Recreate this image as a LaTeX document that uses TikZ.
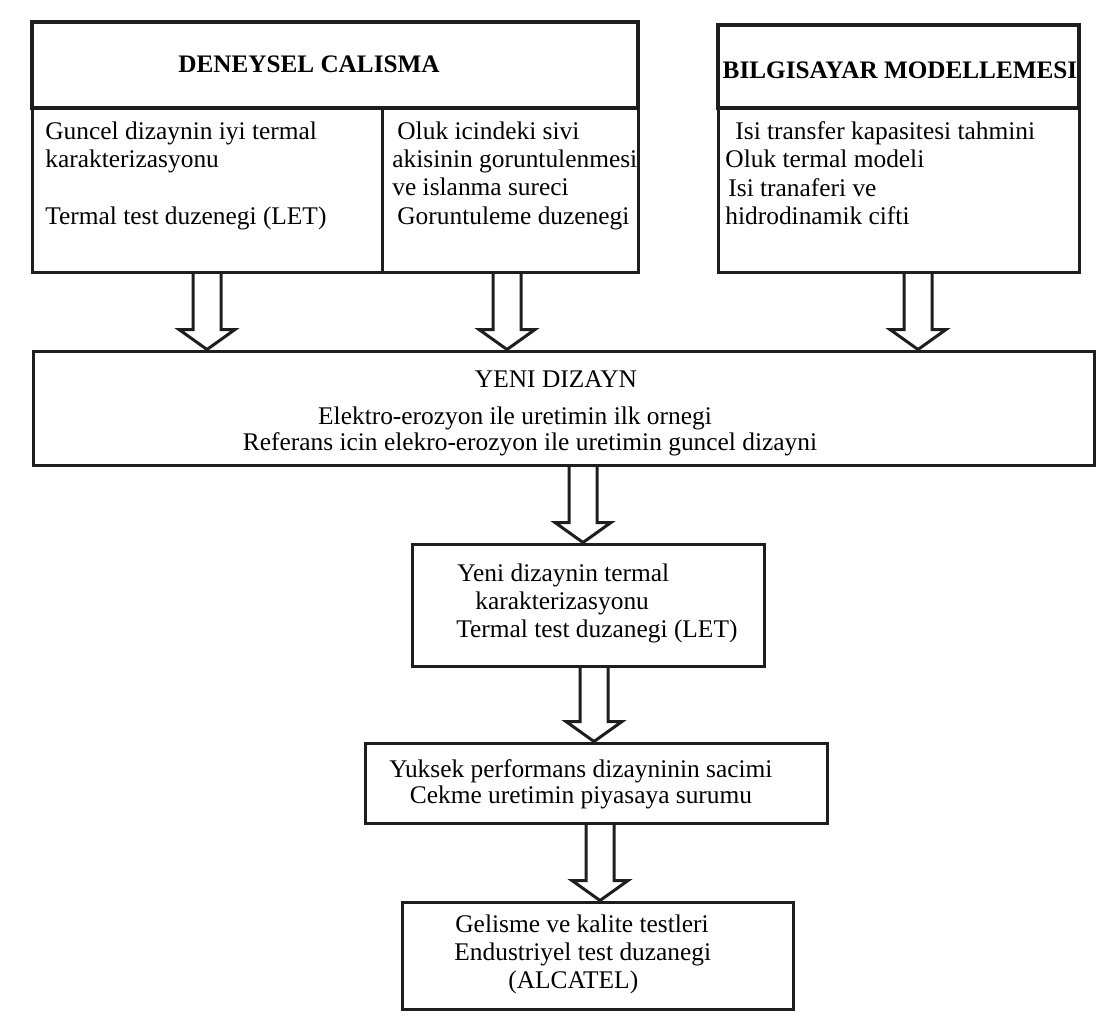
\documentclass[tikz,border=0pt]{standalone}
\usepackage{fontspec}
\setmainfont{Liberation Serif}
\usetikzlibrary{fit,calc}
\definecolor{inkline}{HTML}{1E1E1E}
\newcommand{\hollowarrow}[3]{%
  \draw[arrowline] let \p1=(#1,0), \p2=(#2), \p3=(#3) in
    (\x1-7pt,\y2) -- (\x1-7pt,\y3+10pt) -- (\x1-14pt,\y3+10pt) -- (\x1,\y3)
    -- (\x1+14pt,\y3+10pt) -- (\x1+7pt,\y3+10pt) -- (\x1+7pt,\y2);}
\begin{document}
\begin{tikzpicture}[x=0.5pt,y=-0.5pt,
  box/.style={draw=inkline, line width=1.5pt, inner sep=0pt},
  headbox/.style={box, line width=2pt},
  arrowline/.style={draw=inkline, line width=1.5pt, line join=miter},
  txt/.style={inner sep=0pt, font=\fontsize{12.7}{14.2}\selectfont, align=left, anchor=north west},
  ctxt/.style={inner sep=0pt, font=\fontsize{12.7}{13.2}\selectfont, align=center},
  ptxt/.style={inner sep=0pt, font=\fontsize{12.7}{14}\selectfont},
  htxt/.style={inner sep=0pt, font=\bfseries\fontsize{12.6}{14}\selectfont}]
\useasboundingbox[fill=white] (0,0) rectangle (1107,1028);

% top-left block
\node[headbox, fit={(32,22) (638,108)}] (dh) {};
\node[box, fit={(32,108) (382,272)}] (dl) {};
\node[box, fit={(382,108) (638,272)}] (dm) {};
\node[htxt] (dhT) at (309,64) {DENEYSEL CALISMA};
\node[txt] (dlT) at (45,121) {Guncel dizaynin iyi termal\\karakterizasyonu\\[14.2pt]Termal test duzenegi (LET)};
\node[txt] (dmT) at (392,121) {\hspace*{2.5pt}Oluk icindeki sivi\\akisinin goruntulenmesi\\ve islanma sureci\\\hspace*{2.5pt}Goruntuleme duzenegi};

% top-right block
\node[headbox, fit={(718,25) (1079,108)}] (bh) {};
\node[box, fit={(718,108) (1079,272)}] (bb) {};
\node[htxt] (bhT) at (900,70) {BILGISAYAR MODELLEMESI};
\node[txt] (bbT) at (725,121) {\hspace*{5pt}Isi transfer kapasitesi tahmini\\Oluk termal modeli\\\hspace*{1.5pt}Isi tranaferi ve\\hidrodinamik cifti};

% new design
\node[box, fit={(33,351) (1094,465)}] (yeni) {};
\node[ptxt] (y1) at (556,379) {YENI DIZAYN};
\node[ptxt] (y2) at (515,418) {Elektro-erozyon ile uretimin ilk ornegi};
\node[ptxt] (y3) at (530,444) {Referans icin elekro-erozyon ile uretimin guncel dizayni};

% box 2
\node[box, fit={(412,544) (764,666)}] (b2) {};
\node[txt] (b2T) at (456,563) {\hspace*{0.5pt}Yeni dizaynin termal\\\hspace*{9.5pt}karakterizasyonu\\Termal test duzanegi (LET)};

% box 3
\node[box, fit={(365,743) (827,823)}] (b3) {};
\node[ctxt] (b3T) at (581,784) {Yuksek performans dizayninin sacimi\\Cekme uretimin piyasaya surumu};

% box 4
\node[box, fit={(402,902) (793,1009)}] (b4) {};
\node[txt] (b4T) at (454,914) {\hspace*{0.5pt}Gelisme ve kalite testleri\\Endustriyel test duzanegi\\\hspace*{27pt}(ALCATEL)};

% hollow arrows
\hollowarrow{207}{dl.south}{yeni.north}
\hollowarrow{507}{dm.south}{yeni.north}
\hollowarrow{918}{bb.south}{yeni.north}
\hollowarrow{583}{yeni.south}{b2.north}
\hollowarrow{594}{b2.south}{b3.north}
\hollowarrow{600}{b3.south}{b4.north}
\end{tikzpicture}
\end{document}
